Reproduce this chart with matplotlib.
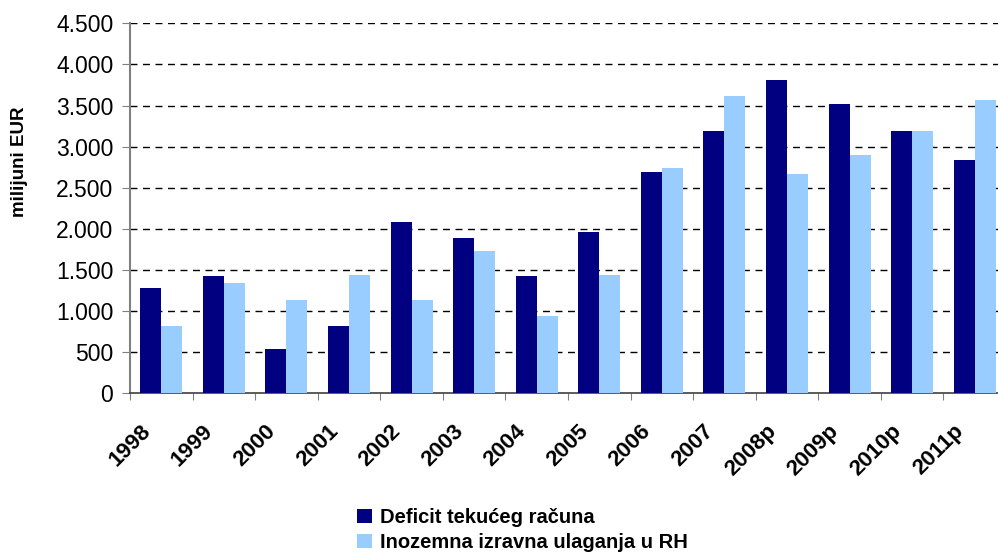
import numpy as np
import matplotlib
matplotlib.use('Agg')
import matplotlib.pyplot as plt
from matplotlib.ticker import FuncFormatter

# Data (milijuni EUR)
years = ['1998', '1999', '2000', '2001', '2002', '2003', '2004',
         '2005', '2006', '2007', '2008p', '2009p', '2010p', '2011p']
deficit = [1283, 1429, 543, 822, 2085, 1891, 1429,
           1964, 2693, 3191, 3810, 3519, 3191, 2838]
fdi = [822, 1344, 1138, 1441, 1138, 1733, 943,
       1441, 2741, 3616, 2668, 2899, 3191, 3567]
yticks = [0, 500, 1000, 1500, 2000, 2500, 3000, 3500, 4000, 4500]

plt.rcParams['font.family'] = ['Liberation Sans', 'DejaVu Sans']

fig = plt.figure(figsize=(9.98, 5.57), dpi=100)
ax = fig.add_axes([130 / 998, 1 - 393.3 / 557, 876 / 998, 370 / 557])

x = np.arange(len(years)) + 0.5
w = 0.335
ax.bar(x - w / 2, deficit, width=w, color='#000080', label='Deficit tekućeg računa', zorder=3)
ax.bar(x + w / 2, fdi, width=w, color='#99CCFF', label='Inozemna izravna ulaganja u RH', zorder=3)

ax.set_xlim(0, len(years))
ax.set_ylim(0, 4500)
ax.set_yticks(yticks)
ax.yaxis.set_major_formatter(FuncFormatter(lambda v, p: f'{v:,.0f}'.replace(',', '.')))
for v in yticks[1:]:
    ax.axhline(v, color='black', linewidth=1.0, dashes=(5, 4), zorder=1)

# tick marks sit on category borders, labels under category centres
ax.set_xticks(range(len(years) + 1))
ax.set_xticklabels([])
for xi, year in zip(x, years):
    ax.annotate(year, xy=(xi, 0), xycoords=('data', 'axes fraction'),
                xytext=(-14, -35), textcoords='offset pixels',
                rotation=45, ha='right', va='center', rotation_mode='anchor',
                fontsize=16, fontweight='bold', annotation_clip=False)
ax.tick_params(axis='x', which='major', length=5, color='#808080', direction='out')
ax.tick_params(axis='y', length=6, color='#808080', labelsize=16.5, pad=6)

for s in ['top', 'right']:
    ax.spines[s].set_visible(False)
ax.spines['left'].set_color('#808080')
ax.spines['left'].set_linewidth(1.5)
ax.spines['bottom'].set_color('#404040')
ax.spines['bottom'].set_linewidth(1.2)

fig.text(20 / 998, 1 - 162 / 557, 'milijuni EUR', rotation=90, ha='center', va='center',
         fontsize=13.5, fontweight='bold')

fig.legend(loc='upper left', bbox_to_anchor=(343 / 998, 1 - 494 / 557), frameon=False,
           handlelength=0.75, handleheight=0.75, handletextpad=0.4, labelspacing=0.3,
           borderpad=0.2, prop={'size': 14.5, 'weight': 'bold'})

fig.savefig('out.png', dpi=100)
